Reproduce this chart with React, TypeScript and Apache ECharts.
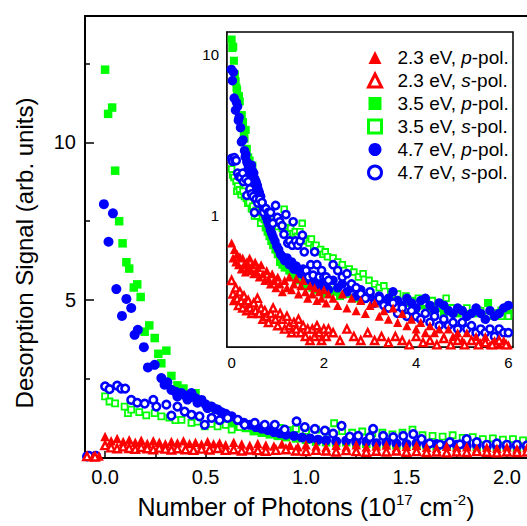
import { useEffect, useRef } from 'react';
import * as echarts from 'echarts';

const FONT = 'Liberation Sans, Arial, sans-serif';
const RED = '#ff0000';
const GREEN = '#00ff00';
const BLUE = '#0000ff';

const NAMES = ['2.3 eV, p-pol.', '2.3 eV, s-pol.', '3.5 eV, p-pol.', '3.5 eV, s-pol.', '4.7 eV, p-pol.', '4.7 eV, s-pol.'];

const MAIN_X_TICKS = [0, 0.5, 1, 1.5, 2];
const MAIN_X_MINOR = [0.25, 0.75, 1.25, 1.75];
const MAIN_Y_TICKS = [5, 10];
const MAIN_Y_MINOR = [2.5, 7.5, 12.5];
const INSET_X_TICKS = [0, 2, 4, 6];
const INSET_X_MINOR = [1, 3, 5];
const INSET_Y_TICKS = [1, 10];
const INSET_Y_MINOR = [0.2, 0.3, 0.4, 0.5, 0.6, 0.7, 0.8, 0.9, 2, 3, 4, 5, 6, 7, 8, 9];

// 2.3 eV, p-pol. (filled red triangles)
const red_p: number[][] = [
  [-0.09, 0.06], [-0.06, 0.05], [-0.03, 0.06],
  [0.00, 0.68], [0.03, 0.55], [0.06, 0.62], [0.09, 0.52], [0.12, 0.58], [0.15, 0.5], [0.18, 0.56], [0.21, 0.47],
  [0.24, 0.55], [0.27, 0.5], [0.30, 0.45], [0.33, 0.52], [0.36, 0.48], [0.39, 0.55], [0.42, 0.46], [0.45, 0.5],
  [0.48, 0.44], [0.51, 0.52], [0.54, 0.45], [0.57, 0.48], [0.60, 0.42], [0.64, 0.5], [0.68, 0.44], [0.72, 0.40],
  [0.76, 0.46], [0.80, 0.41], [0.84, 0.38], [0.88, 0.44], [0.92, 0.40], [0.96, 0.36], [1.00, 0.42], [1.05, 0.38],
  [1.10, 0.34], [1.15, 0.40], [1.20, 0.36], [1.25, 0.42], [1.30, 0.35], [1.35, 0.38], [1.40, 0.41], [1.45, 0.33],
  [1.50, 0.37], [1.55, 0.40], [1.60, 0.34], [1.65, 0.31], [1.70, 0.37], [1.75, 0.33], [1.80, 0.36], [1.85, 0.30],
  [1.90, 0.34], [1.95, 0.31], [2.00, 0.35], [2.05, 0.29], [2.10, 0.33],
  [2.2, 0.31], [2.3, 0.28], [2.4, 0.33], [2.5, 0.27], [2.6, 0.31], [2.7, 0.26], [2.8, 0.30], [2.9, 0.25], [3.0, 0.28],
  [3.1, 0.29], [3.2, 0.24], [3.3, 0.26], [3.4, 0.23], [3.5, 0.27], [3.6, 0.22], [3.7, 0.25], [3.8, 0.21], [3.9, 0.23],
  [4.0, 0.20], [4.1, 0.22], [4.2, 0.19], [4.3, 0.21], [4.4, 0.19], [4.5, 0.2], [4.6, 0.18], [4.7, 0.2], [4.8, 0.18],
  [4.9, 0.19], [5.0, 0.17], [5.1, 0.19], [5.2, 0.17], [5.3, 0.18], [5.4, 0.165], [5.5, 0.18], [5.6, 0.16], [5.7, 0.17],
  [5.8, 0.16], [5.9, 0.17], [6.0, 0.16],
];

// 2.3 eV, s-pol. (open red triangles)
const red_s: number[][] = [
  [-0.09, 0.05], [-0.05, 0.04],
  [0.00, 0.40], [0.03, 0.33], [0.06, 0.30], [0.09, 0.36], [0.12, 0.31], [0.15, 0.28], [0.18, 0.34], [0.21, 0.30],
  [0.24, 0.27], [0.27, 0.32], [0.30, 0.29], [0.33, 0.26], [0.36, 0.30], [0.40, 0.27], [0.44, 0.25], [0.48, 0.29],
  [0.52, 0.26], [0.56, 0.31], [0.60, 0.25], [0.64, 0.27], [0.68, 0.23], [0.72, 0.26], [0.76, 0.24], [0.80, 0.22],
  [0.85, 0.25], [0.90, 0.27], [0.95, 0.23], [1.00, 0.21], [1.05, 0.25], [1.10, 0.23], [1.15, 0.2], [1.20, 0.24],
  [1.25, 0.21], [1.30, 0.19], [1.35, 0.22], [1.40, 0.2], [1.45, 0.23], [1.50, 0.19], [1.55, 0.21], [1.60, 0.18],
  [1.65, 0.2], [1.70, 0.17], [1.75, 0.2], [1.80, 0.18], [1.85, 0.21], [1.90, 0.19], [1.95, 0.17], [2.00, 0.2],
  [2.05, 0.18], [2.10, 0.2],
  [2.2, 0.19], [2.35, 0.17], [2.5, 0.2], [2.65, 0.18], [2.8, 0.17], [2.95, 0.19], [3.1, 0.17], [3.25, 0.18],
  [3.4, 0.165], [3.55, 0.18], [3.7, 0.17], [3.85, 0.16], [4.0, 0.18], [4.15, 0.165], [4.3, 0.17], [4.45, 0.16],
  [4.6, 0.175], [4.75, 0.16], [4.9, 0.17], [5.05, 0.16], [5.2, 0.17], [5.35, 0.16], [5.5, 0.165], [5.65, 0.16],
  [5.8, 0.17], [5.95, 0.16],
];

// 3.5 eV, p-pol. (filled green squares)
const green_p: number[][] = [
  [0.0, 12.3], [0.015, 10.9], [0.035, 11.1], [0.05, 9.1], [0.07, 7.5], [0.087, 6.8], [0.106, 6.2], [0.12, 6.0],
  [0.143, 5.4], [0.16, 5.5], [0.177, 5.1], [0.197, 4.0], [0.22, 4.2], [0.247, 3.8], [0.265, 3.3], [0.28, 3.0],
  [0.305, 3.4], [0.33, 2.6], [0.36, 2.3], [0.39, 2.2], [0.42, 2.0], [0.45, 2.05], [0.48, 1.8], [0.51, 1.65],
  [0.55, 1.55], [0.6, 1.35], [0.63, 1.15], [0.66, 1.0], [0.7, 0.95], [0.74, 0.85], [0.78, 0.8], [0.82, 0.75],
  [0.86, 0.7], [0.9, 0.66], [0.95, 0.62], [1.0, 0.58], [1.05, 0.52], [1.1, 0.5], [1.15, 0.48], [1.2, 0.5],
  [1.25, 0.46], [1.3, 0.45], [1.35, 0.42], [1.4, 0.44], [1.45, 0.4], [1.5, 0.41], [1.55, 0.38], [1.6, 0.4],
  [1.65, 0.37], [1.7, 0.39], [1.75, 0.36], [1.8, 0.38], [1.85, 0.35], [1.9, 0.37], [1.95, 0.34], [2.0, 0.36],
  [2.05, 0.33], [2.1, 0.35],
  [2.2, 0.34], [2.35, 0.32], [2.5, 0.33], [2.65, 0.31], [2.8, 0.3], [2.95, 0.32], [3.1, 0.29], [3.25, 0.3],
  [3.4, 0.28], [3.55, 0.3], [3.7, 0.27], [3.85, 0.29], [4.0, 0.27], [4.15, 0.28], [4.3, 0.26], [4.45, 0.27],
  [4.6, 0.25], [4.75, 0.27], [4.9, 0.25], [5.05, 0.26], [5.2, 0.25], [5.35, 0.26], [5.56, 0.29], [5.7, 0.25],
  [5.85, 0.26], [6.0, 0.25],
];

// 3.5 eV, s-pol. (open green squares)
const green_s: number[][] = [
  [0.0, 1.95], [0.022, 1.79], [0.05, 1.73], [0.097, 1.63], [0.114, 1.42], [0.13, 1.53], [0.17, 1.45], [0.205, 1.35],
  [0.247, 1.42], [0.28, 1.32], [0.32, 1.28], [0.35, 1.2], [0.38, 1.21], [0.43, 1.11], [0.46, 1.15], [0.496, 1.0],
  [0.53, 1.08], [0.56, 1.0], [0.6, 1.05], [0.63, 0.9], [0.67, 0.98], [0.71, 0.95], [0.75, 0.92], [0.79, 1.0],
  [0.83, 0.9], [0.87, 0.95], [0.91, 0.88], [0.95, 0.92], [1.0, 0.86], [1.05, 0.9], [1.1, 0.84], [1.14, 1.1],
  [1.18, 0.85], [1.23, 0.8], [1.28, 0.84], [1.33, 0.78], [1.38, 0.8], [1.43, 0.75], [1.48, 0.8], [1.53, 0.9],
  [1.58, 0.72], [1.63, 0.7], [1.68, 0.68], [1.73, 0.72], [1.78, 0.64], [1.83, 0.66], [1.88, 0.6], [1.93, 0.62],
  [1.98, 0.58], [2.03, 0.6], [2.08, 0.56],
  [2.2, 0.55], [2.3, 0.52], [2.4, 0.5], [2.55, 0.47], [2.65, 0.45], [2.75, 0.42], [2.85, 0.44], [2.98, 0.40],
  [3.1, 0.38], [3.2, 0.36], [3.3, 0.37], [3.45, 0.34], [3.6, 0.33], [3.78, 0.32], [3.9, 0.3], [4.05, 0.31],
  [4.2, 0.29], [4.35, 0.3], [4.5, 0.28], [4.65, 0.31], [4.8, 0.27], [4.95, 0.26], [5.1, 0.27], [5.25, 0.25],
  [5.4, 0.26], [5.55, 0.24], [5.7, 0.25], [5.85, 0.24], [6.0, 0.24],
];

// 4.7 eV, p-pol. (filled blue circles)
const blue_p: number[][] = [
  [-0.09, 0.05], [-0.05, 0.06],
  [-0.006, 8.04], [0.017, 6.85], [0.039, 7.75], [0.056, 5.35], [0.084, 4.5], [0.106, 5.04], [0.13, 4.75],
  [0.147, 3.9], [0.163, 4.06], [0.193, 3.51], [0.213, 2.87], [0.247, 2.95], [0.28, 2.53], [0.296, 2.32],
  [0.31, 2.4], [0.33, 2.16], [0.35, 2.1], [0.36, 1.95], [0.38, 2.06], [0.40, 1.98], [0.41, 1.85], [0.43, 2.06],
  [0.45, 1.9], [0.46, 1.75], [0.48, 1.84], [0.50, 1.7], [0.51, 1.58], [0.53, 1.63], [0.55, 1.55], [0.56, 1.53],
  [0.58, 1.45], [0.60, 1.4], [0.63, 1.32], [0.66, 1.2], [0.69, 1.12], [0.72, 1.05], [0.75, 0.98], [0.78, 0.93],
  [0.81, 0.88], [0.84, 0.82], [0.87, 0.78], [0.90, 0.74], [0.94, 0.70], [0.98, 0.65], [1.02, 0.62], [1.06, 0.58],
  [1.10, 0.56], [1.15, 0.53], [1.20, 0.55], [1.25, 0.5], [1.30, 0.52], [1.35, 0.47], [1.40, 0.49], [1.45, 0.46],
  [1.50, 0.44], [1.55, 0.47], [1.60, 0.42], [1.65, 0.44], [1.70, 0.4], [1.75, 0.42], [1.80, 0.38], [1.85, 0.41],
  [1.90, 0.37], [1.95, 0.39], [2.00, 0.36], [2.05, 0.38], [2.10, 0.35],
  [2.2, 0.40], [2.3, 0.36], [2.4, 0.38], [2.5, 0.34], [2.6, 0.36], [2.7, 0.32], [2.8, 0.35], [2.9, 0.31],
  [3.0, 0.33], [3.1, 0.30], [3.2, 0.32], [3.3, 0.29], [3.4, 0.31], [3.5, 0.34], [3.6, 0.30], [3.7, 0.28],
  [3.8, 0.31], [3.9, 0.29], [4.0, 0.27], [4.1, 0.30], [4.2, 0.31], [4.3, 0.28], [4.4, 0.26], [4.5, 0.29],
  [4.6, 0.28], [4.7, 0.26], [4.8, 0.25], [4.9, 0.27], [5.0, 0.26], [5.1, 0.24], [5.2, 0.25], [5.3, 0.27],
  [5.4, 0.25], [5.5, 0.23], [5.6, 0.26], [5.7, 0.24], [5.8, 0.25], [5.9, 0.27], [6.0, 0.28],
];

// 4.7 eV, s-pol. (open blue circles)
const blue_s: number[][] = [
  [-0.08, 0.07], [-0.045, 0.07],
  [0.0, 2.27], [0.022, 2.18], [0.06, 2.29], [0.08, 2.2], [0.1, 2.2], [0.13, 1.84], [0.16, 1.75], [0.197, 1.72],
  [0.24, 1.84], [0.255, 1.63], [0.305, 1.69], [0.33, 1.34], [0.36, 1.63], [0.396, 1.47], [0.43, 1.37], [0.47, 1.32],
  [0.496, 1.05], [0.53, 1.27], [0.57, 1.2], [0.61, 1.27], [0.66, 1.21], [0.695, 1.05], [0.745, 1.11], [0.795, 1.05],
  [0.845, 1.05], [0.894, 0.9], [0.953, 1.16], [0.994, 0.98], [1.044, 0.92], [1.094, 0.87], [1.135, 0.77],
  [1.177, 1.02], [1.218, 0.68], [1.26, 0.7], [1.318, 0.66], [1.334, 0.92], [1.384, 0.7], [1.434, 0.66],
  [1.484, 0.7], [1.534, 0.76], [1.575, 0.6], [1.616, 0.46], [1.667, 0.42], [1.716, 0.5], [1.766, 0.43],
  [1.8, 0.6], [1.85, 0.5], [1.9, 0.42], [1.95, 0.46], [2.0, 0.42], [2.05, 0.42], [2.1, 0.4],
  [2.2, 0.50], [2.3, 0.46], [2.4, 0.42], [2.5, 0.44], [2.6, 0.38], [2.7, 0.36], [2.8, 0.33], [2.9, 0.31],
  [3.0, 0.34], [3.1, 0.29], [3.2, 0.31], [3.3, 0.28], [3.4, 0.27], [3.5, 0.29], [3.6, 0.25], [3.7, 0.27],
  [3.8, 0.24], [3.9, 0.26], [4.0, 0.24], [4.1, 0.23], [4.2, 0.25], [4.3, 0.22], [4.4, 0.24], [4.5, 0.21],
  [4.6, 0.23], [4.7, 0.21], [4.8, 0.22], [4.9, 0.20], [5.0, 0.22], [5.1, 0.2], [5.2, 0.21], [5.3, 0.19],
  [5.4, 0.2], [5.5, 0.19], [5.6, 0.2], [5.7, 0.18], [5.8, 0.2], [5.9, 0.19], [6.0, 0.19],
];

type Spec = { name: string; data: number[][]; symbol: string; color: string; open: boolean; size: number; bw: number };

const SPECS: Spec[] = [
  { name: NAMES[2], data: green_p, symbol: 'rect', color: GREEN, open: false, size: 8.5, bw: 0 },
  { name: NAMES[3], data: green_s, symbol: 'rect', color: GREEN, open: true, size: 6, bw: 1.8 },
  { name: NAMES[4], data: blue_p, symbol: 'circle', color: BLUE, open: false, size: 10, bw: 0 },
  { name: NAMES[5], data: blue_s, symbol: 'circle', color: BLUE, open: true, size: 7.5, bw: 2.6 },
  { name: NAMES[0], data: red_p, symbol: 'triangle', color: RED, open: false, size: 9.5, bw: 0 },
  { name: NAMES[1], data: red_s, symbol: 'triangle', color: RED, open: true, size: 7.5, bw: 2.4 },
];

function buildSeries(xi: number, yi: number, scale: number) {
  return SPECS.map((s) => ({
    type: 'scatter',
    name: s.name,
    xAxisIndex: xi,
    yAxisIndex: yi,
    data: s.data,
    symbol: s.symbol,
    symbolSize: s.size * scale,
    clip: true,
    itemStyle: s.open
      ? { color: '#ffffff', borderColor: s.color, borderWidth: s.bw, opacity: 1 }
      : { color: s.color, opacity: 1 },
    emphasis: { disabled: true },
    z: 3,
  }));
}

const tickAxis = (extra: any) => ({
  type: 'value',
  splitLine: { show: false },
  ...extra,
});

const LEGEND_ITEMS = NAMES.map((n) => {
  const spec = SPECS.find((s) => s.name === n)!;
  return spec.open
    ? { name: n, itemStyle: { color: '#ffffff', borderColor: spec.color, borderWidth: 3 } }
    : { name: n, itemStyle: { color: spec.color, borderWidth: 0 } };
});

export default function App() {
  const ref = useRef<HTMLDivElement>(null);
  useEffect(() => {
    const chart = echarts.init(ref.current!, undefined, { renderer: 'svg' });
    const black = '#000000';
    const option: any = {
      animation: false,
      backgroundColor: '#ffffff',
      textStyle: { fontFamily: FONT },
      grid: [
        { left: 85, top: 16, right: 0, bottom: 67 },
        { left: 227, top: 32, width: 286, height: 315, show: true, backgroundColor: '#ffffff', borderColor: black, borderWidth: 1.5, z: 1 },
      ],
      legend: {
        data: LEGEND_ITEMS,
        orient: 'vertical',
        left: 362,
        top: 43,
        itemWidth: 13,
        itemHeight: 13,
        itemGap: 4,
        selectedMode: false,
        itemStyle: { borderWidth: 3 },
        formatter: (n: string) => n.replace(/([ps])-pol/, '{i|$1}-pol'),
        textStyle: {
          fontSize: 19,
          fontFamily: FONT,
          color: black,
          padding: [0, 0, 0, 11],
          rich: { i: { fontStyle: 'italic', fontSize: 19, fontFamily: FONT, color: black } },
        },
      },
      xAxis: [
        tickAxis({
          gridIndex: 0, min: -0.1, max: 2.1, position: 'bottom',
          axisLine: { show: true, onZero: false, lineStyle: { color: black, width: 2 } },
          axisTick: { show: true, inside: true, length: 7, customValues: MAIN_X_TICKS, lineStyle: { color: black, width: 1.5 } },
          axisLabel: { show: true, customValues: MAIN_X_TICKS, formatter: (v: number) => v.toFixed(1), fontSize: 20, margin: 9, color: black, fontFamily: FONT },
          name: 'Number of Photons (10{sup|17} cm{sup|-2})',
          nameLocation: 'middle',
          nameGap: 34,
          nameTextStyle: {
            fontSize: 25, fontFamily: FONT, color: black, lineHeight: 29,
            rich: { sup: { fontSize: 15, fontFamily: FONT, color: black, verticalAlign: 'top', lineHeight: 15 } },
          },
        }),
        tickAxis({
          gridIndex: 0, min: -0.1, max: 2.1, position: 'bottom',
          axisLine: { show: false, onZero: false },
          axisTick: { show: true, inside: true, length: 4, customValues: MAIN_X_MINOR, lineStyle: { color: black, width: 1.5 } },
          axisLabel: { show: false },
        }),
        tickAxis({
          gridIndex: 0, min: -0.1, max: 2.1, position: 'top',
          axisLine: { show: true, onZero: false, lineStyle: { color: black, width: 2.2 } },
          axisTick: { show: false },
          axisLabel: { show: false },
        }),
        tickAxis({
          gridIndex: 1, min: -0.1, max: 6.1, position: 'bottom',
          axisLine: { show: true, onZero: false, lineStyle: { color: black, width: 1.5 } },
          axisTick: { show: true, inside: true, length: 5, customValues: INSET_X_TICKS, lineStyle: { color: black, width: 1.2 } },
          axisLabel: { show: true, customValues: INSET_X_TICKS, fontSize: 15, margin: 8, color: black, fontFamily: FONT },
        }),
        tickAxis({
          gridIndex: 1, min: -0.1, max: 6.1, position: 'bottom',
          axisLine: { show: false, onZero: false },
          axisTick: { show: true, inside: true, length: 3, customValues: INSET_X_MINOR, lineStyle: { color: black, width: 1.2 } },
          axisLabel: { show: false },
        }),
      ],
      yAxis: [
        tickAxis({
          gridIndex: 0, min: 0, max: 14, position: 'left',
          axisLine: { show: true, onZero: false, lineStyle: { color: black, width: 2 } },
          axisTick: { show: true, inside: true, length: 9, customValues: MAIN_Y_TICKS, lineStyle: { color: black, width: 1.5 } },
          axisLabel: { show: true, customValues: MAIN_Y_TICKS, fontSize: 20, margin: 9, color: black, fontFamily: FONT },
          name: 'Desorption Signal (arb. units)',
          nameLocation: 'middle',
          nameGap: 49,
          nameTextStyle: { fontSize: 24, fontFamily: FONT, color: black, padding: [0, 32, 0, 0] },
        }),
        tickAxis({
          gridIndex: 0, min: 0, max: 14, position: 'left',
          axisLine: { show: false, onZero: false },
          axisTick: { show: true, inside: true, length: 5, customValues: MAIN_Y_MINOR, lineStyle: { color: black, width: 1.5 } },
          axisLabel: { show: false },
        }),
        {
          type: 'log', logBase: 10, gridIndex: 1, min: 0.155, max: 13.7, position: 'left',
          splitLine: { show: false },
          axisLine: { show: true, onZero: false, lineStyle: { color: black, width: 1.5 } },
          axisTick: { show: true, inside: true, length: 7, customValues: INSET_Y_TICKS, lineStyle: { color: black, width: 1.2 } },
          axisLabel: { show: true, customValues: INSET_Y_TICKS, fontSize: 15, margin: 8, color: black, fontFamily: FONT },
        },
        {
          type: 'log', logBase: 10, gridIndex: 1, min: 0.155, max: 13.7, position: 'left',
          splitLine: { show: false },
          axisLine: { show: false, onZero: false },
          axisTick: { show: true, inside: true, length: 4, customValues: INSET_Y_MINOR, lineStyle: { color: black, width: 1.2 } },
          axisLabel: { show: false },
        },
      ],
      series: [...buildSeries(0, 0, 1), ...buildSeries(3, 2, 0.95)],
    };
    chart.setOption(option);
    return () => chart.dispose();
  }, []);
  return <div ref={ref} style={{ position: 'fixed', left: 0, top: 0, width: 527, height: 526 }} />;
}
